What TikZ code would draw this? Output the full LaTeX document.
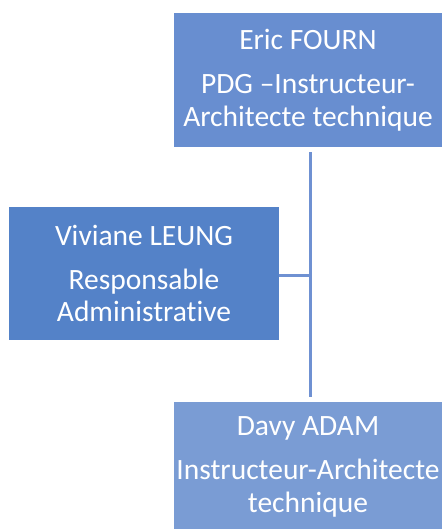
\documentclass[tikz,border=0pt]{standalone}
\usepackage{fontspec}
\setmainfont{Carlito}[Ligatures=NoCommon]
\definecolor{boxtop}{HTML}{688ED0}
\definecolor{boxleft}{HTML}{5482C8}
\definecolor{boxbot}{HTML}{7A9CD4}
\definecolor{linkc}{HTML}{6F91D2}
\begin{document}
\begin{tikzpicture}[x=1pt,y=-1pt,
  orgbox/.style={rectangle, inner sep=0pt, text=white, align=center,
    font=\fontsize{29.5}{32.5}\selectfont},
  link/.style={draw=linkc, line width=3pt}]
\useasboundingbox (0,0) rectangle (442,529);
\node[orgbox, fill=boxtop, minimum width=268pt, minimum height=134pt] (top) at (308,80)
  {Eric FOURN\\[11.5pt]PDG –Instructeur-\\Architecte technique};
\node[orgbox, fill=boxleft, minimum width=270pt, minimum height=133pt] (left) at (144,273.5)
  {Viviane LEUNG\\[11.5pt]Responsable\\Administrative};
\node[orgbox, fill=boxbot, minimum width=268pt, minimum height=130pt] (bot) at (308,467)
  {Davy ADAM\\[11.5pt]Instructeur-Architecte\\technique};
\coordinate (vx) at (310,0);
\draw[link] ([yshift=-5pt]top.south -| vx) -- ([yshift=5pt]bot.north -| vx);
\draw[link] ([yshift=-1.5pt]left.east) -- ([yshift=-1.5pt]left.east -| vx);
\end{tikzpicture}
\end{document}
